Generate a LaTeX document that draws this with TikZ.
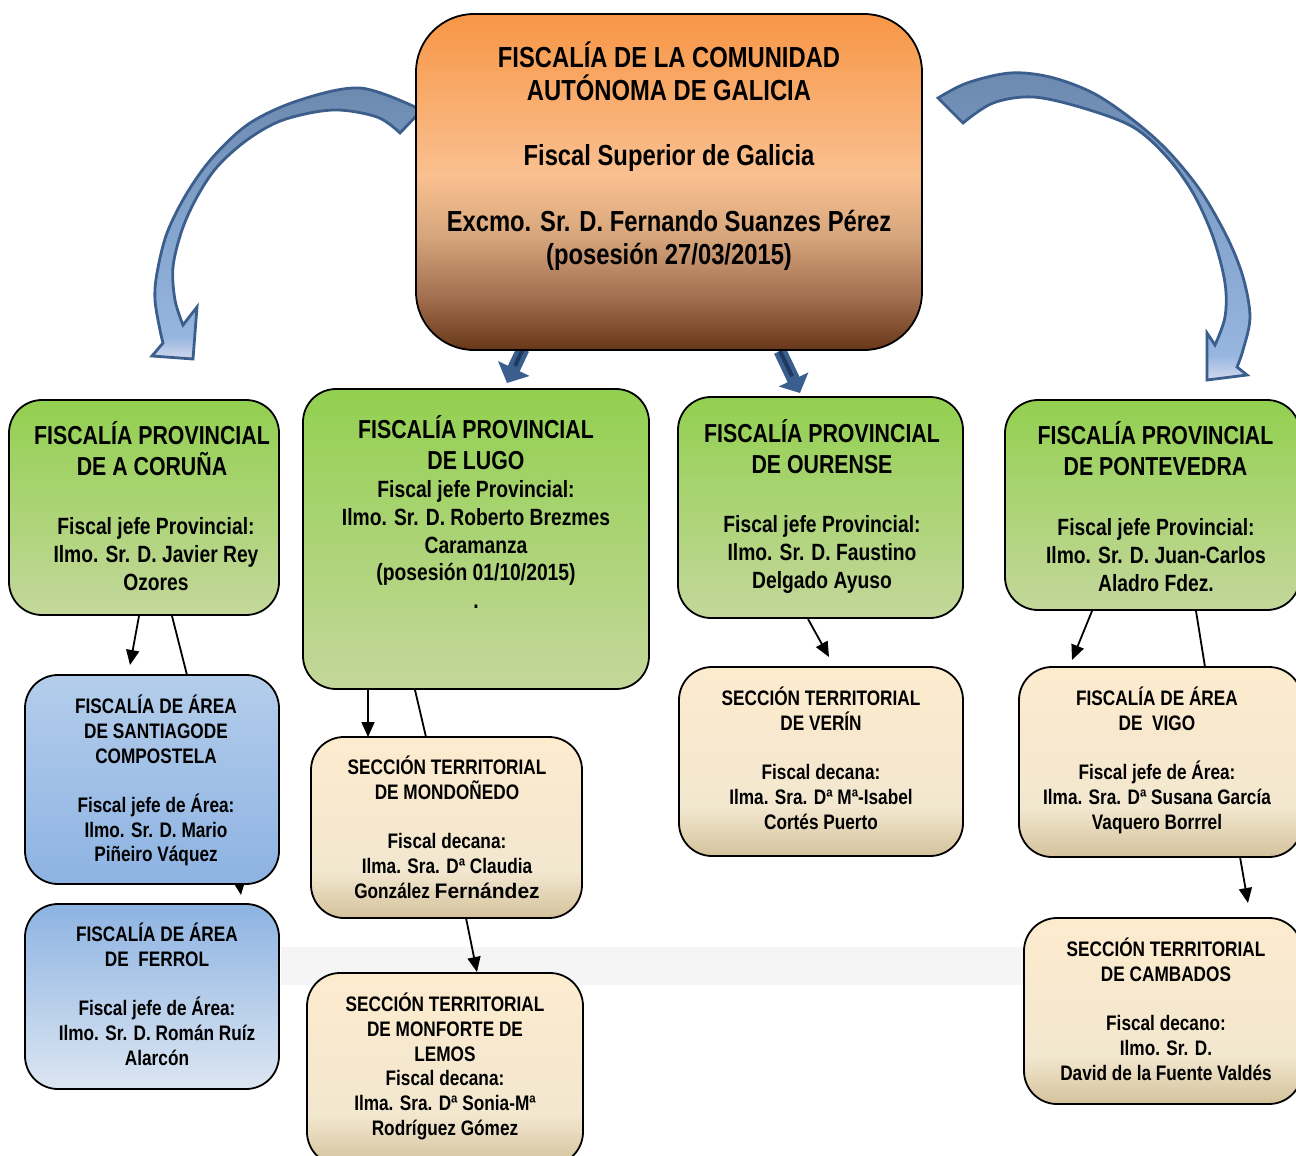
\documentclass[tikz,border=0pt]{standalone}
\usepackage{fontspec}
\setmainfont{Liberation Sans}[FakeStretch=0.82]
\newfontfamily\widefont{Liberation Sans}
\usetikzlibrary{arrows.meta,calc}

\definecolor{tbA}{HTML}{F79646}
\definecolor{tbB}{HTML}{FAC090}
\definecolor{tbC}{HTML}{D6A67C}
\definecolor{tbD}{HTML}{A37050}
\definecolor{tbE}{HTML}{683719}
\pgfdeclareverticalshading{topshade}{100bp}{color(0bp)=(tbE); color(25bp)=(tbE); color(33bp)=(tbD); color(42bp)=(tbC); color(51bp)=(tbB); color(75bp)=(tbA); color(100bp)=(tbA)}
\definecolor{bgA}{HTML}{FDEBCE}
\definecolor{bgB}{HTML}{F2E7CF}
\definecolor{bgC}{HTML}{D4C29C}
\pgfdeclareverticalshading{beigeshade}{100bp}{color(0bp)=(bgC); color(25bp)=(bgC); color(38bp)=(bgB); color(75bp)=(bgA); color(100bp)=(bgA)}
\definecolor{arA}{HTML}{6C89AF}
\definecolor{arB}{HTML}{84A4CD}
\definecolor{arC}{HTML}{97B6DF}
\definecolor{arD}{HTML}{D3D9EE}
\pgfdeclareverticalshading{arrshade}{100bp}{color(0bp)=(arD); color(25bp)=(arD); color(29bp)=(arC); color(50bp)=(arB); color(75bp)=(arA); color(100bp)=(arA)}
\definecolor{grA}{HTML}{92D050}
\definecolor{grB}{HTML}{C4D79B}
\definecolor{sanA}{HTML}{B4CDEB}
\definecolor{sanB}{HTML}{8DB3E2}
\definecolor{ferA}{HTML}{8DB3E2}
\definecolor{ferB}{HTML}{DCE6F2}
\definecolor{arrline}{HTML}{3B5E8C}
\definecolor{blkc}{HTML}{3A5F8E}
\definecolor{blkd}{HTML}{1F3A60}

\pgfdeclarelayer{bg}
\pgfsetlayers{bg,main}

\newcommand\fzTop{\fontsize{29}{33}\selectfont}
\newcommand\fzProv{\fontsize{26}{30.5}\selectfont}
\newcommand\fzPB{\fontsize{23.5}{27.7}\selectfont}
\newcommand\fzS{\fontsize{21}{24.7}\selectfont}
\newcommand\lnst[1]{\rule{0pt}{#1pt}}

\tikzset{
 box/.style={draw=black, line width=1.8pt, rounded corners=33pt, inner sep=0pt, outer sep=0pt},
 greenbox/.style={box, top color=grA, bottom color=grB},
 beigebox/.style={box, shade, shading=beigeshade},
 conn/.style={line width=1.8pt, -{Triangle[length=15pt,width=13pt]}},
 link/.style={line width=1.8pt},
 txt/.style={inner sep=0pt, align=center, anchor=north},
 blk/.style={line width=13pt, draw=blkc, -{Triangle[length=16pt,width=34pt]}},
 blkline/.style={line width=4pt, draw=blkd},
 curv/.style={shade, shading=arrshade, draw=arrline, line width=2.8pt, line join=miter},
}

\begin{document}
\begin{tikzpicture}[x=1pt,y=1pt]
\useasboundingbox (0,0) rectangle (1296,-1156);
\clip (0,0) rectangle (1296,-1156);

% boxes
\node[box, rounded corners=58pt, shade, shading=topshade, minimum width=506pt, minimum height=336pt] (top) at (669,-182) {};
\node[greenbox, minimum width=270pt, minimum height=215pt] (cor) at (144,-507.5) {};
\node[greenbox, minimum width=346pt, minimum height=300pt] (lug) at (476,-539) {};
\node[greenbox, minimum width=285pt, minimum height=221pt] (our) at (820.5,-507.5) {};
\node[greenbox, minimum width=295pt, minimum height=210pt] (pon) at (1152.5,-505) {};
\node[box, top color=sanA, bottom color=sanB, minimum width=254pt, minimum height=209pt] (san) at (152,-779.5) {};
\node[box, top color=ferA, bottom color=ferB, minimum width=254pt, minimum height=185pt] (fer) at (152,-996.5) {};
\node[beigebox, minimum width=271pt, minimum height=181pt] (mon) at (446.5,-827.5) {};
\node[beigebox, minimum width=276pt, minimum height=192pt] (mnf) at (445,-1069) {};
\node[beigebox, minimum width=284pt, minimum height=189pt] (ver) at (821,-761.5) {};
\node[beigebox, minimum width=283pt, minimum height=190pt] (vig) at (1160.5,-762) {};
\node[beigebox, minimum width=278pt, minimum height=186pt] (cam) at (1163,-1011) {};

% texts
\node[txt, font=\bfseries\fzTop] (tTop) at (669,-38.4) {\lnst{29}FISCALÍA DE LA COMUNIDAD\\AUTÓNOMA DE GALICIA\\[32pt]Fiscal Superior de Galicia\\[33pt]Excmo. Sr. D. Fernando Suanzes Pérez\\(posesión 27/03/2015)};

\node[txt, font=\bfseries\fzProv] (tCorT) at (152,-418.3) {\lnst{26}FISCALÍA PROVINCIAL\\DE A CORUÑA};
\node[txt, font=\bfseries\fzPB] (tCorB) at (156,-510.9) {\lnst{23.5}Fiscal jefe Provincial:\\Ilmo. Sr. D. Javier Rey\\Ozores};

\node[txt, font=\bfseries\fzProv] (tLugT) at (476,-412.3) {\lnst{26}FISCALÍA PROVINCIAL\\DE LUGO};
\node[txt, font=\bfseries\fzPB] (tLugB) at (476,-473.9) {\lnst{23.5}Fiscal jefe Provincial:\\Ilmo. Sr. D. Roberto Brezmes\\Caramanza\\(posesión 01/10/2015)\\.};

\node[txt, font=\bfseries\fzProv] (tOurT) at (822,-416.3) {\lnst{26}FISCALÍA PROVINCIAL\\DE OURENSE};
\node[txt, font=\bfseries\fzPB] (tOurB) at (822,-508.9) {\lnst{23.5}Fiscal jefe Provincial:\\Ilmo. Sr. D. Faustino\\Delgado Ayuso};

\node[txt, font=\bfseries\fzProv] (tPonT) at (1155.5,-418.3) {\lnst{26}FISCALÍA PROVINCIAL\\DE PONTEVEDRA};
\node[txt, font=\bfseries\fzPB] (tPonB) at (1156,-511.9) {\lnst{23.5}Fiscal jefe Provincial:\\Ilmo. Sr. D. Juan-Carlos\\Aladro Fdez.};

\node[txt, font=\bfseries\fzS] (tSan) at (156,-692.5) {\lnst{21}FISCALÍA DE ÁREA\\DE SANTIAGODE\\COMPOSTELA\\[24.7pt]Fiscal jefe de Área:\\Ilmo. Sr. D. Mario\\Piñeiro Váquez};
\node[txt, font=\bfseries\fzS] (tFer) at (157,-920.5) {\lnst{21}FISCALÍA DE ÁREA\\DE~ FERROL\\[24.7pt]Fiscal jefe de Área:\\Ilmo. Sr. D. Román Ruíz\\Alarcón};
\node[txt, font=\bfseries\fzS] (tMon) at (447,-753.5) {\lnst{21}SECCIÓN TERRITORIAL\\DE MONDOÑEDO\\[24.7pt]Fiscal decana:\\Ilma. Sra. Dª Claudia\\González {\widefont Fernández}};
\node[txt, font=\bfseries\fzS] (tMnf) at (445,-990.5) {\lnst{21}SECCIÓN TERRITORIAL\\DE MONFORTE DE\\LEMOS\\Fiscal decana:\\Ilma. Sra. Dª Sonia-Mª\\Rodríguez Gómez};
\node[txt, font=\bfseries\fzS] (tVer) at (821,-684.5) {\lnst{21}SECCIÓN TERRITORIAL\\DE VERÍN\\[24.7pt]Fiscal decana:\\Ilma. Sra. Dª Mª-Isabel\\Cortés Puerto};
\node[txt, font=\bfseries\fzS] (tVig) at (1157,-684.5) {\lnst{21}FISCALÍA DE ÁREA\\DE~ VIGO\\[24.7pt]Fiscal jefe de Área:\\Ilma. Sra. Dª Susana García\\Vaquero Borrrel};
\node[txt, font=\bfseries\fzS] (tCam) at (1166,-935.5) {\lnst{21}SECCIÓN TERRITORIAL\\DE CAMBADOS\\[24.7pt]Fiscal decano:\\Ilmo. Sr. D.\\David de la Fuente Valdés};

% connectors
\draw[conn] ($(cor.south)+(-5,-1)$) -- ($(san.north)+(-22,10)$);
\draw[link] ($(cor.south)+(28,-1)$) -- ($(san.north)+(35,0)$);
\draw[conn] ($(lug.south)+(-108,-1)$) -- ($(mon.north)+(-78.5,0)$);
\draw[link] ($(lug.south)+(-61,-1)$) -- ($(mon.north)+(-20.5,0)$);
\draw[conn] ($(mon.south)+(19.5,0)$) -- ($(mnf.north)+(32,1)$);
\draw[conn] ($(our.south)+(-12.5,-1)$) -- ($(ver.north)+(8,10)$);
\draw[conn] ($(pon.south)+(-60.5,-1)$) -- ($(vig.north)+(-88.5,7)$);
\draw[link] ($(pon.south)+(43.5,-1)$) -- ($(vig.north)+(44.5,0)$);
\draw[conn] ($(vig.south)+(79.5,0)$) -- ($(cam.north)+(85,15)$);

\begin{pgfonlayer}{bg}
\fill[black!4] (281,-947) rectangle (1024,-985);
\draw[conn] ($(san.south)+(87,4)$) -- ($(fer.north)+(89,9)$);
% block arrows
\coordinate (bl1) at ($(top.south)+(-146,1)$);
\coordinate (bl2) at ($(lug.north)+(31,6)$);
\coordinate (br1) at ($(top.south)+(111,-1)$);
\coordinate (br2) at ($(our.north)+(-20.5,4)$);
\draw[blk] (bl1) -- (bl2);
\draw[blkline] (bl1) -- ($(bl1)!0.5!(bl2)$);
\draw[blk, -{Triangle[length=15pt,width=32pt]}] (br1) -- (br2);
\draw[blkline] (br1) -- ($(br1)!0.6!(br2)$);
% curved arrows
\path[curv] (421,-107) -- plot[smooth, tension=0.55] coordinates {(415,-107) (360,-88) (300,-100) (250,-123) (213,-157) (187,-193) (167,-233) (157,-273) (155,-300) (160,-330) (163,-343)} -- (152,-356) -- (193,-359) -- (197,-307) -- (183,-325) -- plot[smooth, tension=0.55] coordinates {(183,-325) (175,-300) (173,-267) (182,-230) (197,-197) (217,-167) (247,-140) (283,-120) (333,-110) (377,-117) (400,-133)} -- (421,-111) -- cycle;
\path[curv] (938,-98) -- plot[smooth, tension=0.55] coordinates {(938,-98) (967,-83) (1010,-73) (1050,-77) (1093,-93) (1133,-120) (1167,-150) (1200,-190) (1227,-237) (1243,-277) (1250,-317) (1243,-350) (1237,-367)} -- (1247,-375) -- (1207,-380) -- (1207,-333) -- (1215,-345) -- plot[smooth, tension=0.55] coordinates {(1215,-345) (1225,-317) (1225,-283) (1213,-237) (1193,-193) (1167,-157) (1133,-127) (1083,-108) (1033,-97) (993,-103) (963,-123)} -- cycle;
\end{pgfonlayer}
\end{tikzpicture}
\end{document}
